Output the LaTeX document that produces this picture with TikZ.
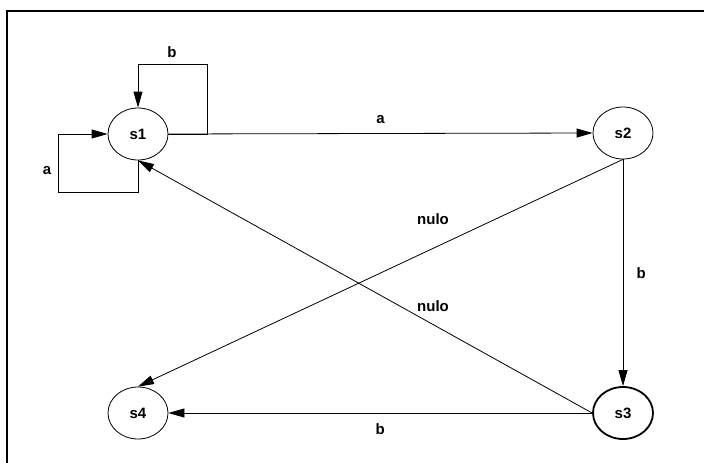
\documentclass[tikz,border=0pt]{standalone}
\usepackage{fontspec}
\setmainfont{Liberation Sans}
\usetikzlibrary{shapes.geometric,arrows.meta}

\tikzset{
  state/.style={ellipse, draw, line width=0.8pt, minimum width=60pt, minimum height=52pt, inner sep=0pt, font=\bfseries\fontsize{15}{17}\selectfont},
  final/.style={state, line width=1.8pt},
  lbl/.style={font=\bfseries\fontsize{15}{17}\selectfont},
  tr/.style={-{Triangle[length=16pt,width=9pt]}, line width=0.8pt}
}

\begin{document}
\begin{tikzpicture}[x=1pt, y=-1pt]
\useasboundingbox (0,0) rectangle (704,463);
\draw[line width=2pt] (7,475) |- (715,11);

\node[state] (s1) at (138,134) {s1};
\node[state] (s2) at (623,133) {s2};
\node[final] (s3) at (623,413) {s3};
\node[state] (s4) at (138,413) {s4};

% self loops on s1
\coordinate (b1) at (207,64);
\coordinate (a1) at (58,192);
\draw[tr] (s1.east) -| (b1) -| (s1.north);
\draw[tr] (s1.south) |- (a1) |- (s1.west);
\node[lbl] at (172,52) {b};
\node[lbl] at (47,171) {a};

% transitions
\draw[tr] (s1.east) -- node[lbl, above=6pt] {a} (s2.west);
\draw[tr] (s2.south) -- node[lbl, right=10pt] {b} (s3.north);
\draw[tr] (s3.west) -- node[lbl, below=7pt] {b} (s4.east);
\draw[tr] (s2.south) -- (s4.north);
\draw[tr] (s3.west) -- (s1.south);
\node[lbl] at (433,219) {nulo};
\node[lbl] at (433,306) {nulo};
\end{tikzpicture}
\end{document}
